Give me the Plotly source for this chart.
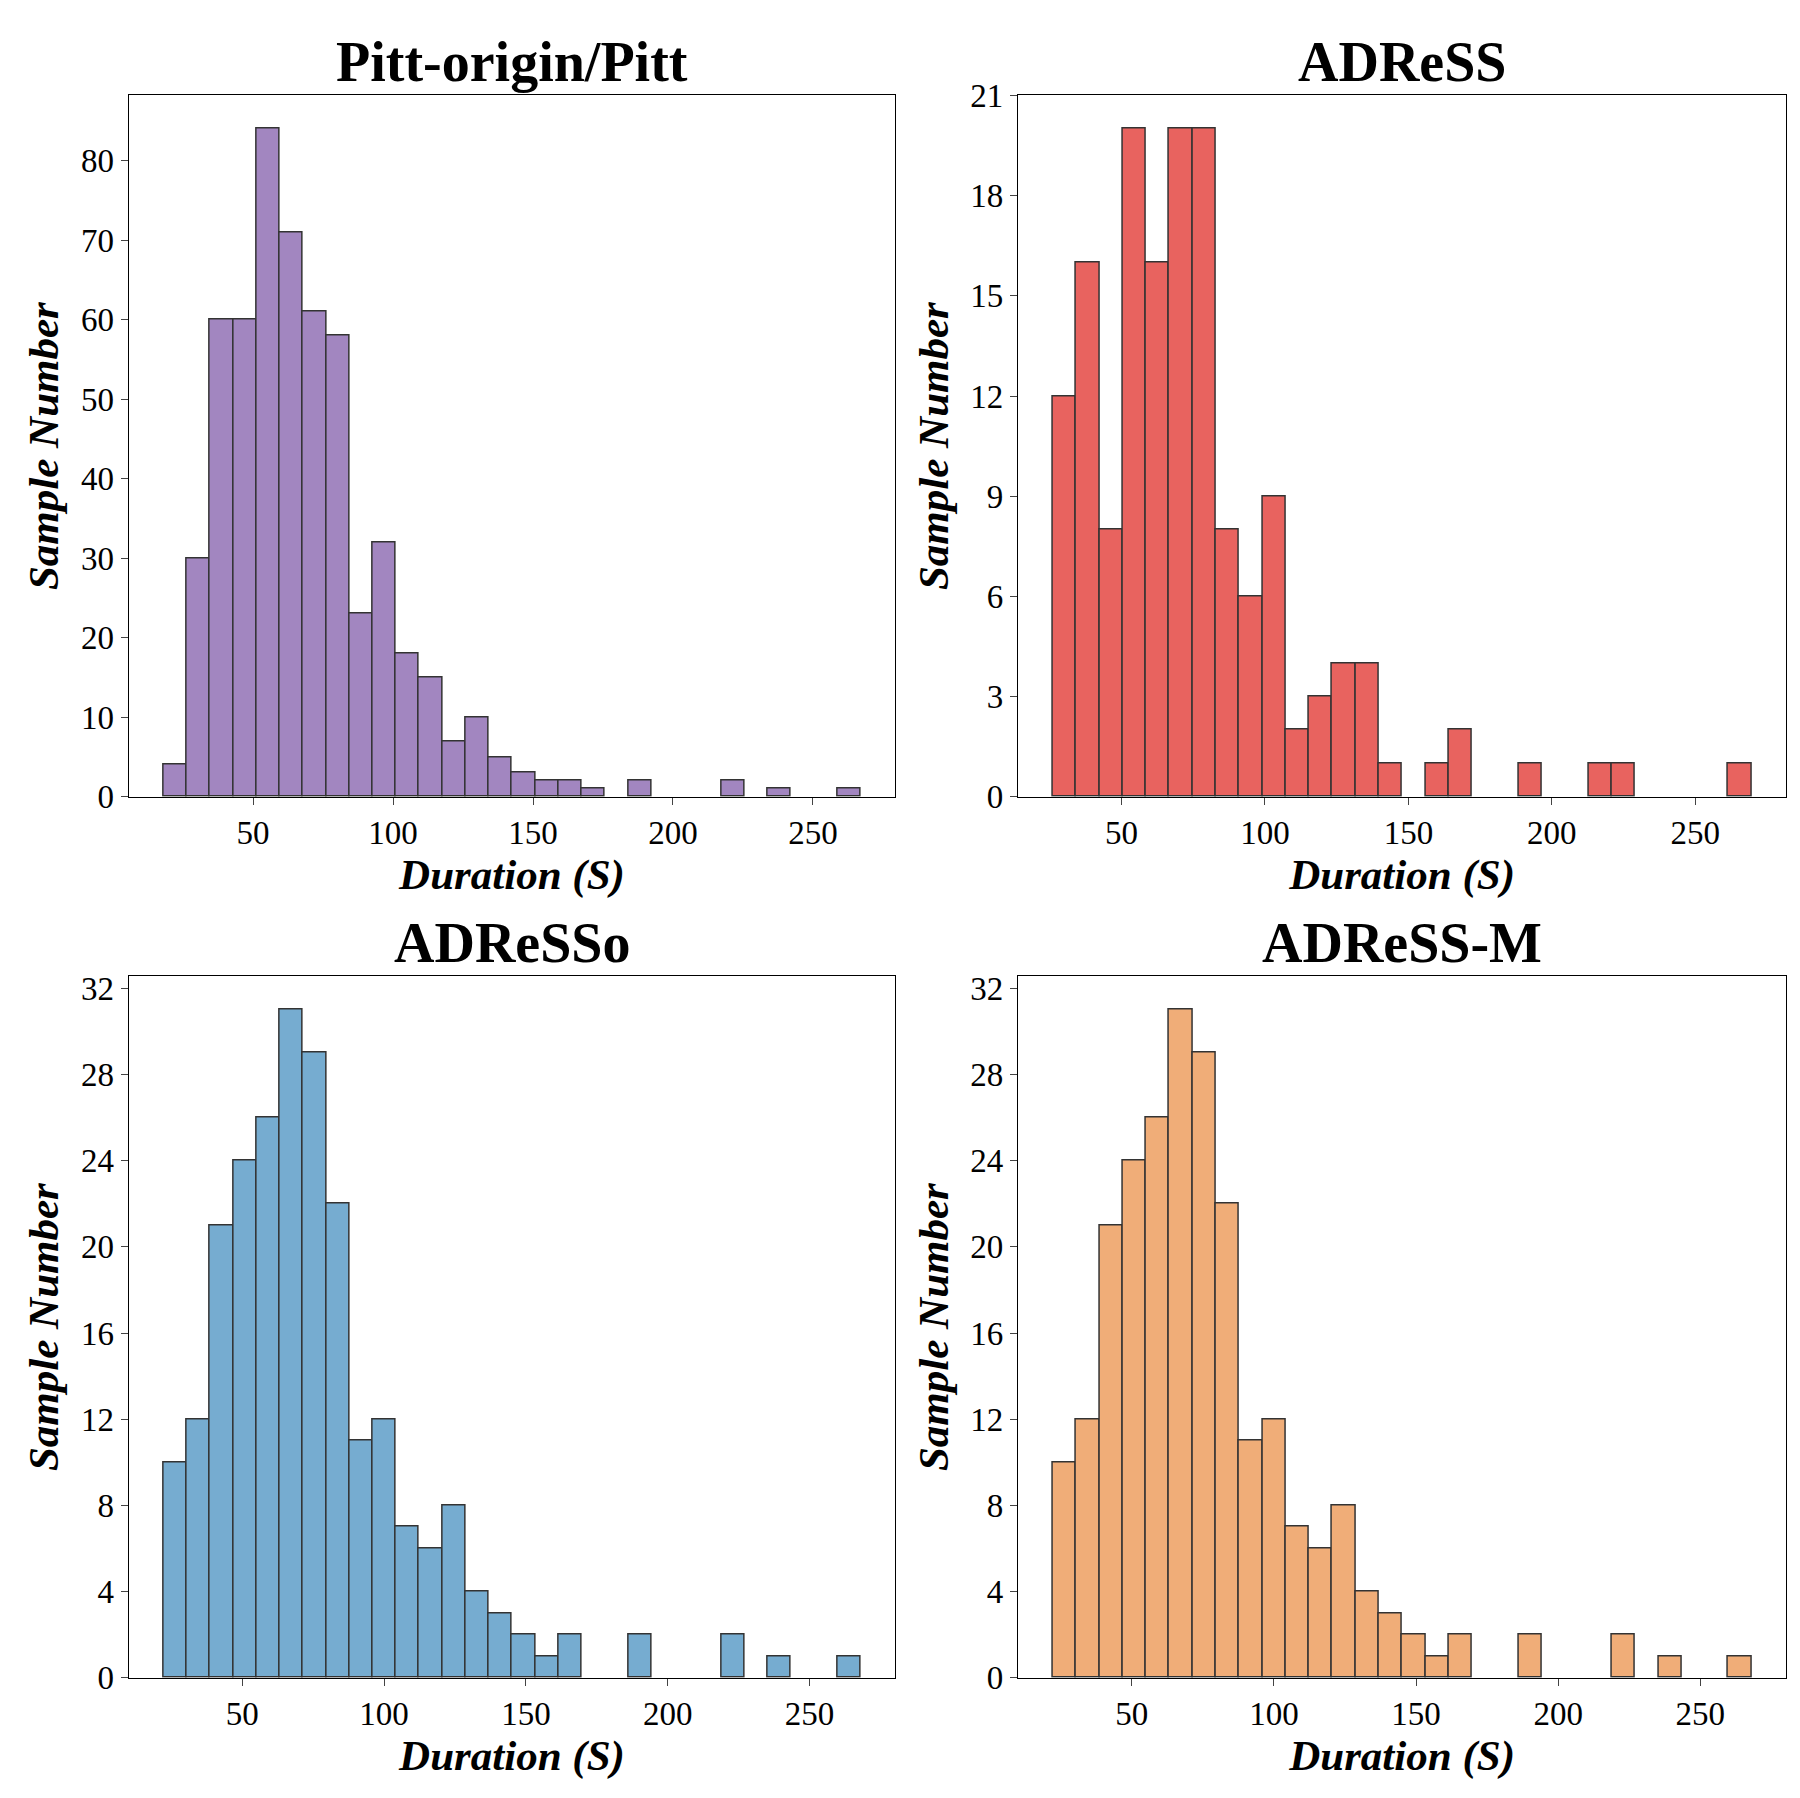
import plotly.graph_objects as go
import numpy as np

titles = ["Pitt-origin/Pitt", "ADReSS", "ADReSSo", "ADReSS-M"]
bin_start = [18.0, 26.0, 22.2, 22.2]
bin_end = [267.0, 269.6, 268.0, 268.0]
pitt = [4,30,60,60,84,71,61,58,23,32,18,15,7,10,5,3,2,2,1,0,2,0,0,0,2,0,1,0,0,1]
adress = [12,16,8,20,16,20,20,8,6,9,2,3,4,4,1,0,1,2,0,0,1,0,0,1,1,0,0,0,0,1]
adresso = [10,12,21,24,26,31,29,22,11,12,7,6,8,4,3,2,1,2,0,0,2,0,0,0,2,0,1,0,0,1]
adressm = [10,12,21,24,26,31,29,22,11,12,7,6,8,4,3,2,1,2,0,0,2,0,0,0,2,0,1,0,0,1]
counts = [pitt, adress, adresso, adressm]
colors = ["#a286c0", "#e8635f", "#76acd0", "#f0ad78"]
ymax = [88.2, 21, 32.55, 32.55]
ydtick = [10, 3, 4, 4]

xdom = [[0.067, 0.493], [0.561, 0.988]]
ydom = [[0.562, 0.960], [0.062, 0.460]]
FONT = "Liberation Serif"

fig = go.Figure()
for i in range(4):
    c = counts[i]
    n = len(c)
    edges = np.linspace(bin_start[i], bin_end[i], n + 1)
    w = edges[1] - edges[0]
    centers = (edges[:-1] + edges[1:]) / 2
    lw = [1.5 if v > 0 else 0 for v in c]
    s = "" if i == 0 else str(i + 1)
    fig.add_trace(go.Bar(x=centers, y=c, width=w, marker=dict(color=colors[i], line=dict(color="#333333", width=lw)),
                         xaxis="x" + s, yaxis="y" + s, showlegend=False))
    lo, hi = edges[0], edges[-1]
    m = 0.05 * (hi - lo)
    r, row = i % 2, i // 2
    ax = dict(domain=xdom[r], range=[lo - m, hi + m], tickvals=[50, 100, 150, 200, 250],
              ticks="outside", ticklen=7, showline=True, linecolor="black", mirror=True, showgrid=False,
              zeroline=False, tickfont=dict(family=FONT, size=33, color="black"),
              title=dict(text="Duration (S)", standoff=4, font=dict(family=FONT, size=43, color="black", style="italic", weight="bold")),
              anchor="y" + s)
    ay = dict(domain=ydom[row], range=[0, ymax[i]], dtick=ydtick[i], ticks="outside", ticklen=7,
              showline=True, linecolor="black", mirror=True, showgrid=False, zeroline=False,
              tickfont=dict(family=FONT, size=33, color="black"),
              title=dict(text="Sample Number", standoff=8, font=dict(family=FONT, size=43, color="black", style="italic", weight="bold")),
              anchor="x" + s)
    fig.layout["xaxis" + s] = ax
    fig.layout["yaxis" + s] = ay
    fig.add_annotation(text="<b>" + titles[i] + "</b>", x=(xdom[r][0] + xdom[r][1]) / 2, y=ydom[row][1],
                       xref="paper", yref="paper", xanchor="center", yanchor="bottom", showarrow=False,
                       font=dict(family=FONT, size=56, color="black"))

fig.update_layout(width=1800, height=1798, plot_bgcolor="white", paper_bgcolor="white",
                  margin=dict(l=0, r=0, t=0, b=0), bargap=0)
fig.write_html("out.html")
